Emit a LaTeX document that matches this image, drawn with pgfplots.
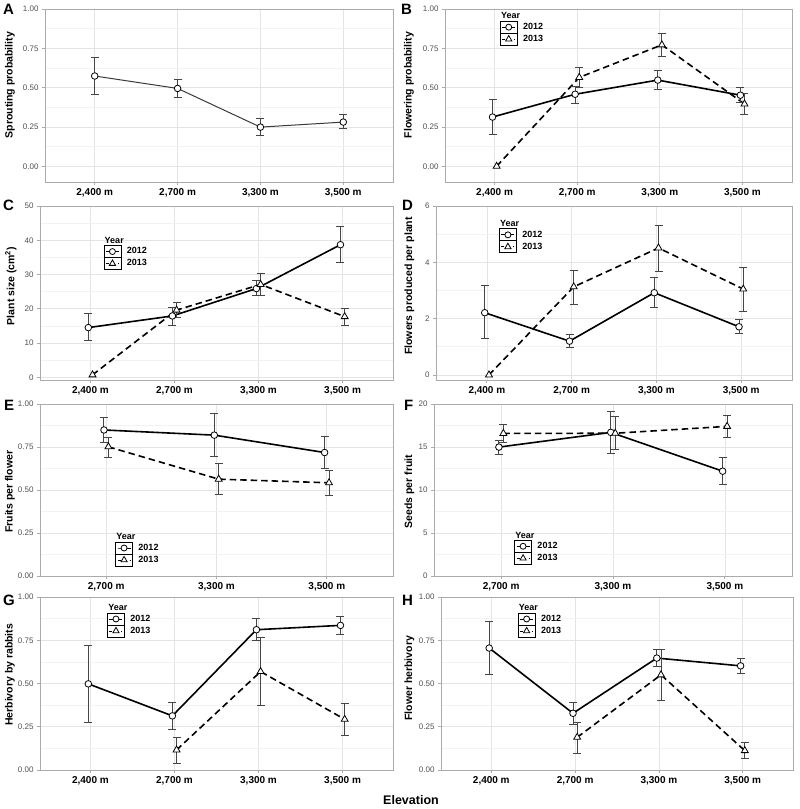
\documentclass[border=0pt]{standalone}
\usepackage{pgfplots}
\pgfplotsset{compat=1.18}
\usepackage{fontspec}
\setmainfont{Liberation Sans}
\definecolor{framegray}{HTML}{ABABAB}
\definecolor{gridmaj}{HTML}{E4E4E4}
\definecolor{gridmin}{HTML}{F2F2F2}
\definecolor{ticktext}{HTML}{505050}
\definecolor{errcol}{HTML}{454545}
\definecolor{lineA}{HTML}{3A3A3A}

\pgfplotsset{
  panel/.style={
    scale only axis, anchor=north west, clip=false,
    axis line style={framegray, line width=0.8pt},
    xmajorgrids, ymajorgrids, yminorgrids,
    major grid style={gridmaj, line width=0.7pt},
    minor grid style={gridmin, line width=0.6pt},
    minor y tick num=1, minor tick length=0pt,
    major tick length=3pt, tick align=outside,
    xtick pos=bottom, ytick pos=left,
    major tick style={framegray, line width=0.8pt},
    xticklabel style={font=\bfseries\fontsize{10}{12}\selectfont, text=black},
    yticklabel style={font=\fontsize{8}{9}\selectfont, text=ticktext},
    /pgf/number format/assume math mode=true,
    ylabel style={font=\bfseries\fontsize{10.5}{12}\selectfont, anchor=center},
    legend style={draw=none, fill=none, inner sep=0pt, outer sep=0pt, row sep=-0.8pt,
      font=\bfseries\fontsize{9}{10}\selectfont, anchor=north west,
      /tikz/every odd column/.style={column sep=3.5pt}},
    legend cell align=left,
    legend image code/.code={
      \draw[black, line width=0.8pt, solid, fill=white] (0pt,-6pt) rectangle (17pt,6pt);
      \draw[mark repeat=2, mark phase=2, #1] plot coordinates {(2pt,0pt) (8.5pt,0pt) (15pt,0pt)};
    },
  },
  cat4/.style={xmin=-0.6, xmax=3.6, xtick={0,1,2,3}, xticklabels={{2,400 m},{2,700 m},{3,300 m},{3,500 m}}},
  cat3/.style={xmin=-0.6, xmax=2.6, xtick={0,1,2}, xticklabels={{2,700 m},{3,300 m},{3,500 m}}},
  prob/.style={ytick={0,0.25,0.5,0.75,1}, yticklabel style={/pgf/number format/.cd, fixed, fixed zerofill, precision=2}},
  ylab/.style 2 args={ylabel style={at={([xshift=-#1pt]rel axis cs:0,#2)}}},
  yleg/.style 2 args={legend style={at={(rel axis cs:#1,#2)}}},
  l12/.style={black, solid, line width=1.6pt, no markers, forget plot},
  l13/.style={black, dash pattern=on 6.5pt off 4pt, line width=1.6pt, no markers, forget plot},
  m12/.style={only marks, mark=*, mark size=3.3pt, mark options={fill=white, draw=black, line width=0.8pt, solid}, forget plot},
  m13/.style={only marks, mark=triangle*, mark size=4pt, mark options={fill=white, draw=black, line width=0.8pt, solid}, forget plot},
  eb/.style={error bars/y dir=both, error bars/y explicit,
    error bars/error bar style={errcol, line width=1pt, solid},
    error bars/error mark options={errcol, line width=1pt, mark size=4pt, rotate=90}},
  leg12/.style={black, solid, line width=0.9pt, mark=*, mark size=3pt, mark options={fill=white, solid, line width=0.8pt}},
  leg13/.style={black, dash pattern=on 3pt off 3pt, line width=0.9pt, mark=triangle*, mark size=3.6pt, mark options={fill=white, solid, line width=0.8pt}},
}
\newcommand{\yearleg}[2]{%
  \addlegendimage{leg12}\addlegendentry{2012}
  \addlegendimage{leg13}\addlegendentry{2013}
  \node[anchor=south west, inner sep=0pt, font=\bfseries\fontsize{9}{10}\selectfont] at ([xshift=1pt,yshift=1.5pt]rel axis cs:#1,#2) {Year};
}

\begin{document}
\begin{tikzpicture}
\path[use as bounding box] (0,0) rectangle (800pt,-809pt);

% ---------- A ----------
\begin{axis}[panel, cat4, prob, at={(45pt,-9pt)}, width=348pt, height=173pt,
  ymin=-0.1, ymax=1, ylabel={Sprouting probability}, ylab={35}{0.56}]
\addplot[lineA, solid, line width=1pt, no markers, forget plot] table {
x y
0 0.574
1 0.495
2 0.249
3 0.281
};
\addplot[m12, eb] table[x=x, y=y, y error plus=ep, y error minus=em] {
x y ep em
0 0.574 0.119 0.116
1 0.495 0.059 0.056
2 0.249 0.056 0.053
3 0.281 0.047 0.042
};
\end{axis}

% ---------- B ----------
\begin{axis}[panel, cat4, prob, at={(445pt,-9pt)}, width=347pt, height=173pt,
  ymin=-0.1, ymax=1, ylabel={Flowering probability}, ylab={36}{0.56}, yleg={0.158}{0.932}]
\addplot[l12] table {
x y
-0.025 0.313
0.975 0.458
1.975 0.548
2.975 0.452
};
\addplot[l13] table {
x y
0.025 0.0
1.025 0.565
2.025 0.772
3.025 0.396
};
\addplot[m12, eb] table[x=x, y=y, y error plus=ep, y error minus=em] {
x y ep em
-0.025 0.313 0.111 0.113
0.975 0.458 0.052 0.057
1.975 0.548 0.064 0.058
2.975 0.452 0.049 0.049
};
\addplot[m13] table {
x y
0.025 0.0
};
\addplot[m13, eb] table[x=x, y=y, y error plus=ep, y error minus=em] {
x y ep em
1.025 0.565 0.060 0.064
2.025 0.772 0.070 0.075
3.025 0.396 0.067 0.068
};
\yearleg{0.158}{0.932}
\end{axis}

% ---------- C ----------
\begin{axis}[panel, cat4, at={(40pt,-206pt)}, width=353pt, height=174pt,
  ymin=-0.8, ymax=50, ytick={0,10,20,30,40,50},
  ylabel={Plant size (cm\textsuperscript{2})}, ylab={29}{0.54}, yleg={0.18}{0.775}]
\addplot[l12] table {
x y
-0.025 14.5
0.975 17.9
1.975 25.9
2.975 38.7
};
\addplot[l13] table {
x y
0.025 0.7
1.025 19.6
2.025 27.1
3.025 17.7
};
\addplot[m12, eb] table[x=x, y=y, y error plus=ep, y error minus=em] {
x y ep em
-0.025 14.5 4.1 3.9
0.975 17.9 2.6 2.7
1.975 25.9 2.3 2.1
2.975 38.7 5.2 5.1
};
\addplot[m13] table {
x y
0.025 0.7
};
\addplot[m13, eb] table[x=x, y=y, y error plus=ep, y error minus=em] {
x y ep em
1.025 19.6 2.3 2.2
2.025 27.1 3.1 3.1
3.025 17.7 2.5 2.7
};
\yearleg{0.18}{0.775}
\end{axis}

% ---------- D ----------
\begin{axis}[panel, cat4, at={(436pt,-206pt)}, width=356pt, height=174pt,
  ymin=-0.18, ymax=6, ytick={0,2,4,6},
  ylabel={Flowers produced per plant}, ylab={26.5}{0.54}, yleg={0.177}{0.871}]
\addplot[l12] table {
x y
-0.025 2.21
0.975 1.20
1.975 2.92
2.975 1.71
};
\addplot[l13] table {
x y
0.025 0.0
1.025 3.13
2.025 4.51
3.025 3.05
};
\addplot[m12, eb] table[x=x, y=y, y error plus=ep, y error minus=em] {
x y ep em
-0.025 2.21 0.95 0.93
0.975 1.20 0.24 0.23
1.975 2.92 0.54 0.51
2.975 1.71 0.27 0.25
};
\addplot[m13] table {
x y
0.025 0.0
};
\addplot[m13, eb] table[x=x, y=y, y error plus=ep, y error minus=em] {
x y ep em
1.025 3.13 0.57 0.62
2.025 4.51 0.80 0.85
3.025 3.05 0.76 0.78
};
\yearleg{0.177}{0.871}
\end{axis}

% ---------- E ----------
\begin{axis}[panel, cat3, prob, at={(40pt,-404pt)}, width=353pt, height=172pt,
  ymin=0, ymax=1, ylabel={Fruits per flower}, ylab={30}{0.49}, yleg={0.213}{0.2}]
\addplot[l12] table {
x y
-0.02 0.849
0.98 0.819
1.98 0.718
};
\addplot[l13] table {
x y
0.02 0.751
1.02 0.563
2.02 0.542
};
\addplot[m12, eb] table[x=x, y=y, y error plus=ep, y error minus=em] {
x y ep em
-0.02 0.849 0.071 0.072
0.98 0.819 0.123 0.122
1.98 0.718 0.094 0.095
};
\addplot[m13, eb] table[x=x, y=y, y error plus=ep, y error minus=em] {
x y ep em
0.02 0.751 0.055 0.060
1.02 0.563 0.091 0.087
2.02 0.542 0.070 0.072
};
\yearleg{0.213}{0.2}
\end{axis}

% ---------- F ----------
\begin{axis}[panel, cat3, at={(434pt,-404pt)}, width=358pt, height=172pt,
  ymin=0, ymax=20, ytick={0,5,10,15,20},
  ylabel={Seeds per fruit}, ylab={24.5}{0.49}, yleg={0.224}{0.21}]
\addplot[l12] table {
x y
-0.02 14.99
0.98 16.7
1.98 12.19
};
\addplot[l13] table {
x y
0.02 16.58
1.02 16.6
2.02 17.4
};
\addplot[m12, eb] table[x=x, y=y, y error plus=ep, y error minus=em] {
x y ep em
-0.02 14.99 0.81 0.82
0.98 16.7 2.4 2.4
1.98 12.19 1.56 1.55
};
\addplot[m13, eb] table[x=x, y=y, y error plus=ep, y error minus=em] {
x y ep em
0.02 16.58 1.09 1.05
1.02 16.6 1.9 1.9
2.02 17.4 1.3 1.3
};
\yearleg{0.224}{0.21}
\end{axis}

% ---------- G ----------
\begin{axis}[panel, cat4, prob, at={(40pt,-597pt)}, width=353pt, height=173pt,
  ymin=0, ymax=1, ylabel={Herbivory by rabbits}, ylab={30}{0.55}, yleg={0.19}{0.91}]
\addplot[l12] table {
x y
-0.025 0.498
0.975 0.313
1.975 0.811
2.975 0.836
};
\addplot[l13] table {
x y
1.025 0.116
2.025 0.569
3.025 0.293
};
\addplot[m12, eb] table[x=x, y=y, y error plus=ep, y error minus=em] {
x y ep em
-0.025 0.498 0.222 0.224
0.975 0.313 0.079 0.077
1.975 0.811 0.065 0.064
2.975 0.836 0.052 0.054
};
\addplot[m13, eb] table[x=x, y=y, y error plus=ep, y error minus=em] {
x y ep em
1.025 0.116 0.071 0.081
2.025 0.569 0.199 0.198
3.025 0.293 0.093 0.096
};
\yearleg{0.19}{0.91}
\end{axis}

% ---------- H ----------
\begin{axis}[panel, cat4, prob, at={(441pt,-597pt)}, width=352pt, height=173pt,
  ymin=0, ymax=1, ylabel={Flower herbivory}, ylab={31.5}{0.53}, yleg={0.218}{0.91}]
\addplot[l12] table {
x y
-0.025 0.705
0.975 0.328
1.975 0.647
2.975 0.602
};
\addplot[l13] table {
x y
1.025 0.189
2.025 0.550
3.025 0.112
};
\addplot[m12, eb] table[x=x, y=y, y error plus=ep, y error minus=em] {
x y ep em
-0.025 0.705 0.152 0.151
0.975 0.328 0.064 0.067
1.975 0.647 0.050 0.049
2.975 0.602 0.045 0.044
};
\addplot[m13, eb] table[x=x, y=y, y error plus=ep, y error minus=em] {
x y ep em
1.025 0.189 0.085 0.092
2.025 0.550 0.149 0.148
3.025 0.112 0.046 0.048
};
\yearleg{0.218}{0.91}
\end{axis}

% panel letters and common x label
\begin{scope}[every node/.style={font=\bfseries\fontsize{15}{18}\selectfont, anchor=base west, inner sep=0pt}]
\node at (3pt,-14.5pt) {A};
\node at (401pt,-14.5pt) {B};
\node at (3pt,-210pt) {C};
\node at (402pt,-210pt) {D};
\node at (4pt,-410pt) {E};
\node at (404pt,-410pt) {F};
\node at (3pt,-605pt) {G};
\node at (402pt,-605pt) {H};
\end{scope}
\node[font=\bfseries\fontsize{12.5}{15}\selectfont, anchor=base, inner sep=0pt] at (411pt,-804pt) {Elevation};
\end{tikzpicture}
\end{document}
